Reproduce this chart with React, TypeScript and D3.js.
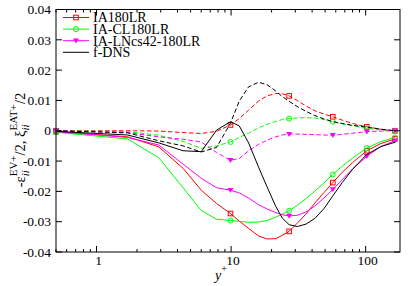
import React from 'react';
import * as d3 from 'd3';

// wall-normal positions (y+) shared by every series
const yPlus = [0.5, 1.7, 2.9, 4.4, 6.0, 7.8, 9.9, 11.5, 13.5, 16, 18.5, 21.5, 24, 27, 31, 36, 42, 49, 57, 67, 80, 102, 130, 165];
// indices of yPlus where a symbol is drawn
const markerIdx = [0, 6, 13, 18, 21, 23];

// -eps_ii^EV+/2 (solid lines)
const ia180Solid = [-0.0003, -0.002, -0.0053, -0.0124, -0.0196, -0.024, -0.0273, -0.0298, -0.0322, -0.0347, -0.0357, -0.0356, -0.0345, -0.0332, -0.0305, -0.0275, -0.0238, -0.0204, -0.0171, -0.0137, -0.0105, -0.0066, -0.0042, -0.0027];
const iaclSolid = [-0.0005, -0.0027, -0.0089, -0.0188, -0.0263, -0.0292, -0.0296, -0.0299, -0.0302, -0.0301, -0.0296, -0.0285, -0.0275, -0.0264, -0.0246, -0.0224, -0.0199, -0.0172, -0.0144, -0.0117, -0.009, -0.0057, -0.0036, -0.0022];
const ialnSolid = [-0.0003, -0.0022, -0.0047, -0.011, -0.0157, -0.0188, -0.0196, -0.0205, -0.0222, -0.0244, -0.0258, -0.027, -0.0277, -0.0281, -0.0279, -0.0268, -0.0248, -0.0222, -0.0194, -0.0161, -0.0126, -0.0084, -0.0052, -0.0033];
const dnsSolid = [-0.0002, -0.0014, -0.004, -0.0066, -0.0069, 0.0002, 0.003, 0.0016, -0.004, -0.012, -0.0185, -0.025, -0.0288, -0.031, -0.0316, -0.0308, -0.0289, -0.0257, -0.0215, -0.0171, -0.0127, -0.0078, -0.0052, -0.0038];

// xi_ii^EAT+/2 (dashed lines)
const ia180Dash = [0, 0, -0.0001, -0.0006, -0.0009, -0.0002, 0.0019, 0.004, 0.0068, 0.0098, 0.0115, 0.0123, 0.0122, 0.0115, 0.01, 0.0082, 0.0066, 0.0055, 0.0046, 0.0035, 0.0024, 0.0013, 0.0005, 0];
const iaclDash = [0, -0.0003, -0.0015, -0.0035, -0.0058, -0.005, -0.0037, -0.0022, -0.0008, 0.001, 0.0021, 0.0031, 0.0037, 0.004, 0.0042, 0.0043, 0.0042, 0.0037, 0.003, 0.0023, 0.0016, 0.0008, 0.0003, 0];
const ialnDash = [0, -0.0006, -0.002, -0.0028, -0.0037, -0.0072, -0.0097, -0.0092, -0.0066, -0.0045, -0.0031, -0.002, -0.0014, -0.0011, -0.0011, -0.0012, -0.0013, -0.0014, -0.0015, -0.0012, -0.0008, -0.0003, -0.0001, 0];
const dnsDash = [0, -0.0007, -0.0033, -0.005, -0.007, -0.0055, 0.0025, 0.0098, 0.0145, 0.016, 0.0152, 0.0131, 0.0113, 0.0097, 0.008, 0.0064, 0.005, 0.0039, 0.003, 0.0024, 0.0018, 0.0012, 0.0005, 0];

const yTicks = [0.04, 0.03, 0.02, 0.01, 0, -0.01, -0.02, -0.03, -0.04];
const xMajor = [1, 10, 100];

const names = ['IA180LR', 'IA-CL180LR', 'IA-LNcs42-180LR', 'f-DNS'];
const colors = ['#ff0000', '#00ff00', '#ff00ff', '#000000'];
const symbols = ['square', 'circle', 'triangle', 'none'];

const W = 415, H = 286;
const left = 56, right = 400, top = 9.5, bottom = 252;
const FONT = '"Liberation Serif", "Times New Roman", serif';

const x = d3.scaleLog().domain([0.5, 180]).range([left, right]);
const y = d3.scaleLinear().domain([-0.04, 0.04]).range([bottom, top]);

function Marker({ kind, cx, cy, color }: { kind: string; cx: number; cy: number; color: string }) {
  if (kind === 'square') return <rect x={cx - 2.3} y={cy - 2.3} width={4.6} height={4.6} fill="none" stroke={color} strokeWidth={1} />;
  if (kind === 'circle') return <circle cx={cx} cy={cy} r={2.5} fill="none" stroke={color} strokeWidth={1} />;
  if (kind === 'triangle') return <path d={`M${cx - 3},${cy - 2.2}L${cx + 3},${cy - 2.2}L${cx},${cy + 2.8}Z`} fill={color} />;
  return null;
}

export default function App() {
  const line = d3.line<number>().x((_, i) => x(yPlus[i])).y((d) => y(d));
  const solid = [ia180Solid, iaclSolid, ialnSolid, dnsSolid];
  const dashed = [ia180Dash, iaclDash, ialnDash, dnsDash];

  const minor: number[] = [];
  [0.1, 1, 10, 100].forEach((dec) => {
    for (let k = 2; k <= 9; k++) {
      const v = dec * k;
      if (v >= 0.5 && v <= 180) minor.push(v);
    }
  });

  return (
    <svg width={W} height={H} style={{ position: 'absolute', left: 0, top: 0, background: '#fff' }} fontFamily={FONT}>
      {/* curves */}
      {dashed.map((s, k) => (
        <g key={'d' + k}>
          <path d={line(s) || ''} fill="none" stroke={colors[k]} strokeWidth={1} strokeDasharray="4.5,2.5" />
          {markerIdx.map((i) => (
            <Marker key={i} kind={symbols[k]} cx={x(yPlus[i])} cy={y(s[i])} color={colors[k]} />
          ))}
        </g>
      ))}
      {solid.map((s, k) => (
        <g key={'s' + k}>
          <path d={line(s) || ''} fill="none" stroke={colors[k]} strokeWidth={1} />
          {markerIdx.map((i) => (
            <Marker key={i} kind={symbols[k]} cx={x(yPlus[i])} cy={y(s[i])} color={colors[k]} />
          ))}
        </g>
      ))}

      {/* frame */}
      <rect x={left} y={top} width={right - left} height={bottom - top} fill="none" stroke="#000" strokeWidth={1} />

      {/* y ticks */}
      {yTicks.map((t) => (
        <g key={t}>
          <line x1={left} x2={left + 6} y1={y(t)} y2={y(t)} stroke="#000" />
          <line x1={right - 6} x2={right} y1={y(t)} y2={y(t)} stroke="#000" />
          <text x={left - 5} y={y(t)} dy="0.35em" textAnchor="end" fontSize={13.5}>
            {t === 0 ? '0' : t.toFixed(2)}
          </text>
        </g>
      ))}

      {/* x ticks */}
      {xMajor.map((t) => (
        <g key={t}>
          <line x1={x(t)} x2={x(t)} y1={bottom} y2={bottom - 6} stroke="#000" />
          <line x1={x(t)} x2={x(t)} y1={top} y2={top + 6} stroke="#000" />
          <text x={x(t) + 2} y={265} textAnchor="middle" fontSize={13.5}>{t}</text>
        </g>
      ))}
      {minor.map((t) => (
        <g key={'m' + t}>
          <line x1={x(t)} x2={x(t)} y1={bottom} y2={bottom - 3} stroke="#000" />
          <line x1={x(t)} x2={x(t)} y1={top} y2={top + 3} stroke="#000" />
        </g>
      ))}

      {/* axis titles */}
      <text x={221} y={280} fontSize={14} textAnchor="middle">
        <tspan fontStyle="italic">y</tspan>
        <tspan fontSize={10} dy={-8}>+</tspan>
      </text>
      <text transform="translate(25,140) rotate(-90)" textAnchor="middle" fontSize={14.5}>
        <tspan>-ε</tspan>
        <tspan fontSize={11} fontStyle="italic" dy={4}>ii</tspan>
        <tspan fontSize={11} dx={-6.1} dy={-12}>EV+</tspan>
        <tspan dy={8}>/2, ξ</tspan>
        <tspan fontSize={11} fontStyle="italic" dy={4}>ii</tspan>
        <tspan fontSize={11} dx={-6.1} dy={-12}>EAT+</tspan>
        <tspan dy={8}>/2</tspan>
      </text>

      {/* legend */}
      {names.map((n, k) => {
        const ly = 17.5 + k * 11.6;
        return (
          <g key={n}>
            <line x1={63} x2={89} y1={ly} y2={ly} stroke={colors[k]} strokeWidth={1} />
            <Marker kind={symbols[k]} cx={76} cy={ly} color={colors[k]} />
            <text x={93} y={ly} dy="0.35em" fontSize={14}>{n}</text>
          </g>
        );
      })}
    </svg>
  );
}
